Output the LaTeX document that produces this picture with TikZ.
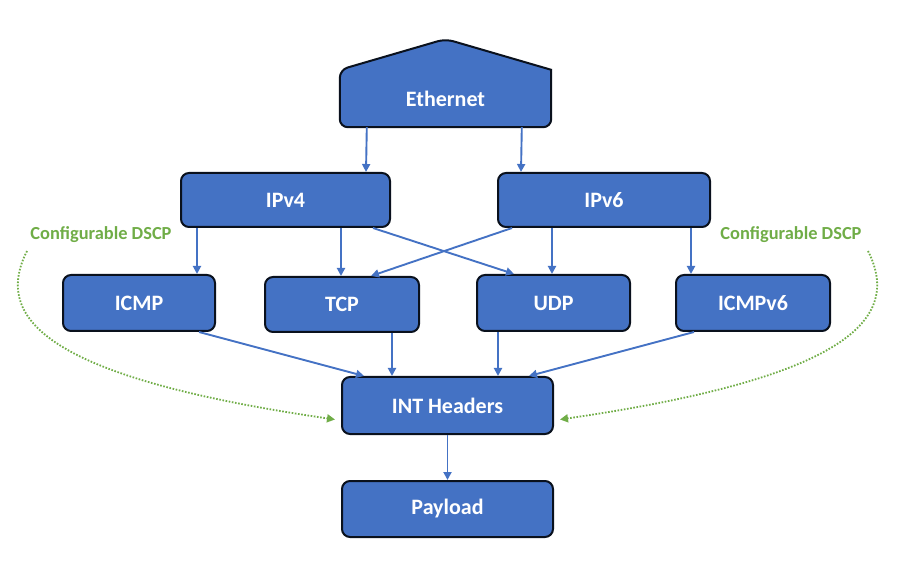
\documentclass[tikz,border=0pt]{standalone}
\usepackage{fontspec}
\setmainfont{Carlito}
\usetikzlibrary{arrows.meta}
\definecolor{boxblue}{HTML}{4472C4}
\definecolor{dscpgreen}{HTML}{70AD47}
\begin{document}
\begin{tikzpicture}[x=1pt,y=-1pt,
  pbox/.style={draw=black!85!boxblue,line width=2pt,fill=boxblue,rounded corners=8pt,
    text=white,font=\fontsize{22}{26}\selectfont\bfseries,inner sep=0pt},
  conn/.style={draw=boxblue,line width=1.9pt,-{Triangle[width=8pt,length=8pt]}},
  dscp/.style={draw=dscpgreen,line width=1.8pt,dash pattern=on 1.6pt off 1.6pt,-{Triangle[width=8pt,length=8pt]}},
  dscplabel/.style={text=dscpgreen,font=\fontsize{18.4}{22}\selectfont\bfseries,inner sep=0pt}]
\useasboundingbox (0,0) rectangle (900,561);
% Ethernet (pentagon)
\node[inner sep=0pt,minimum width=211pt,minimum height=57pt] (eth) at (445.5,98.5) {};
\draw[draw=black!85!boxblue,line width=2pt,fill=boxblue,rounded corners=8pt]
  (eth.south west) -- (eth.north west) -- (445.5,39) [sharp corners] -- (eth.north east) [rounded corners=8pt] -- (eth.south east) -- cycle;
\node[text=white,font=\fontsize{22}{26}\selectfont\bfseries] (ethtext) at (eth.center) {Ethernet};
% boxes
\node[pbox,minimum width=209pt,minimum height=54pt] (ipv4) at (285.5,200) {IPv4};
\node[pbox,minimum width=212pt,minimum height=54pt] (ipv6) at (604,200) {IPv6};
\node[pbox,minimum width=152pt,minimum height=56pt] (icmp) at (139,303) {ICMP};
\node[pbox,minimum width=154pt,minimum height=55pt] (tcp) at (342,304.5) {TCP};
\node[pbox,minimum width=153pt,minimum height=56pt] (udp) at (553.5,303) {UDP};
\node[pbox,minimum width=154pt,minimum height=56pt] (icmpv6) at (753,303) {ICMPv6};
\node[pbox,minimum width=211pt,minimum height=57pt] (int) at (447.5,405.5) {INT Headers};
\node[pbox,minimum width=211pt,minimum height=56pt] (pay) at (447.5,509) {Payload};
% connectors
\draw[conn] ([xshift=27pt]eth.south west) -- ([xshift=186pt]ipv4.north west);
\draw[conn] ([xshift=182pt]eth.south west) -- ([xshift=24pt]ipv6.north west);
\draw[conn] ([xshift=17pt]ipv4.south west) -- ([xshift=135pt]icmp.north west);
\draw[conn] ([xshift=161pt]ipv4.south west) -- ([xshift=77pt]tcp.north west);
\draw[conn] ([xshift=193pt]ipv4.south west) -- ([xshift=38pt]udp.north west);
\draw[conn] ([xshift=15pt]ipv6.south west) -- ([xshift=107pt]tcp.north west);
\draw[conn] ([xshift=55pt]ipv6.south west) -- ([xshift=76pt]udp.north west);
\draw[conn] ([xshift=194pt]ipv6.south west) -- ([xshift=16pt]icmpv6.north west);
\draw[conn] ([xshift=137pt]icmp.south west) -- ([xshift=23pt]int.north west);
\draw[conn] ([xshift=128pt]tcp.south west) -- ([xshift=51pt]int.north west);
\draw[conn] ([xshift=22pt]udp.south west) -- ([xshift=157pt]int.north west);
\draw[conn] ([xshift=19pt]icmpv6.south west) -- ([xshift=188pt]int.north west);
\draw[conn] (int.south) -- (pay.north);
% DSCP labels and curves
\node[dscplabel] (dl) at (101,235) {Configurable DSCP};
\node[dscplabel] (dr) at (791,235) {Configurable DSCP};
\coordinate (dlstart) at (27,251);
\coordinate (drstart) at (868,251);
\draw[dscp] (dlstart) .. controls (-8,320) and (50,378) .. ([xshift=-6pt,yshift=-14pt]int.west);
\draw[dscp] (drstart) .. controls (903,320) and (845,378) .. ([xshift=6pt,yshift=-14pt]int.east);
\end{tikzpicture}
\end{document}
